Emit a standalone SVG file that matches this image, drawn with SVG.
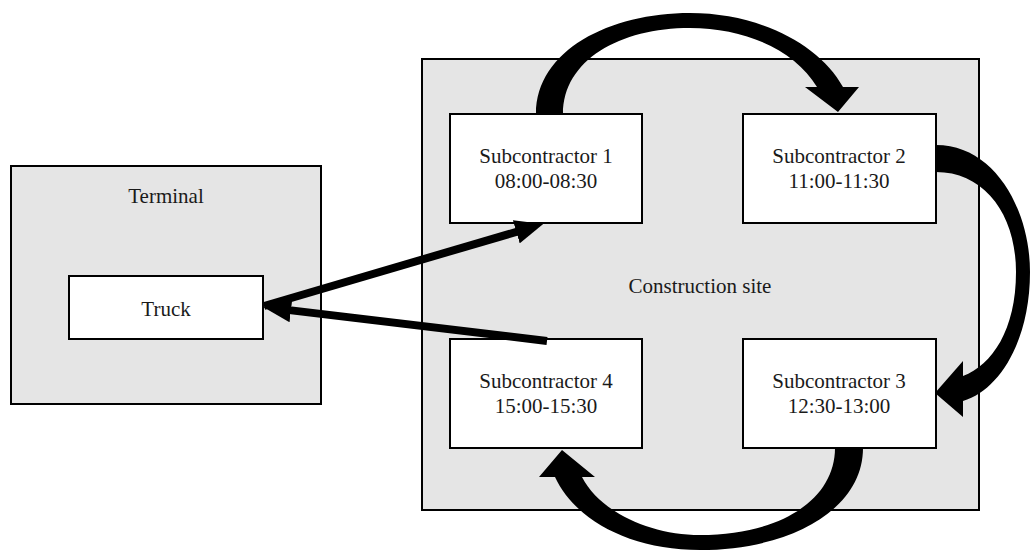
<svg xmlns="http://www.w3.org/2000/svg" width="1030" height="551" viewBox="0 0 1030 551">
<style>
.area{fill:#e5e5e5;stroke:#000;stroke-width:2}
.box{fill:#fff;stroke:#000;stroke-width:2}
text{font-family:"Liberation Serif","Times New Roman",serif;font-size:21px;fill:#1a1a1a;text-anchor:middle}
.band{fill:#000;stroke:none}
.line{stroke:#000;stroke-width:8;fill:none}
</style>
<defs>
<marker id="ah" markerUnits="userSpaceOnUse" markerWidth="28" markerHeight="24" refX="8" refY="12" orient="auto">
<path d="M0,0 L28,12 L0,24 Z" fill="#000"/>
</marker>
</defs>
<rect width="1030" height="551" fill="#fff"/>
<g id="terminal">
<rect class="area" x="11" y="166" width="310" height="238"/>
<text x="166" y="203">Terminal</text>
</g>
<g id="construction-site">
<rect class="area" x="422" y="59" width="557" height="451"/>
<text x="700" y="293">Construction site</text>
</g>
<g id="truck">
<rect class="box" x="69" y="276" width="194" height="63"/>
<text x="166" y="316">Truck</text>
</g>
<g id="sub1">
<rect class="box" x="450" y="114" width="192" height="109"/>
<text x="546" y="163">Subcontractor 1</text>
<text x="546" y="188">08:00-08:30</text>
</g>
<g id="sub2">
<rect class="box" x="743" y="114" width="193" height="109"/>
<text x="839" y="163">Subcontractor 2</text>
<text x="839" y="188">11:00-11:30</text>
</g>
<g id="sub3">
<rect class="box" x="743" y="339" width="193" height="109"/>
<text x="839" y="388">Subcontractor 3</text>
<text x="839" y="413">12:30-13:00</text>
</g>
<g id="sub4">
<rect class="box" x="450" y="339" width="192" height="109"/>
<text x="546" y="388">Subcontractor 4</text>
<text x="546" y="413">15:00-15:30</text>
</g>
<g id="connectors">
<path class="band" d="M536,114 C536,50 610,13 690,13 C760,13 820,45 843,87 L859,87 L838,112 L805,87 L817,87 C795,50 745,28 690,28 C620,28 563,60 563,114 Z"/>
<path class="band" d="M936,145 C995,145 1030,210 1030,272 C1030,340 1000,390 963,401 L963,417 L935,393 L963,361 L963,376 C992,365 1016,330 1016,272 C1016,215 985,172 936,172 Z"/>
<path class="band" d="M863,448 C863,510 790,550 700,550 C630,550 575,520 555,477 L539,477 L562,450 L595,477 L582,477 C600,512 650,535 700,535 C780,535 835,500 835,448 Z"/>
<line class="line" x1="264" y1="306" x2="524" y2="229.6" marker-end="url(#ah)"/>
<line class="line" x1="547" y1="341" x2="283" y2="309.4" marker-end="url(#ah)"/>
</g>
</svg>
